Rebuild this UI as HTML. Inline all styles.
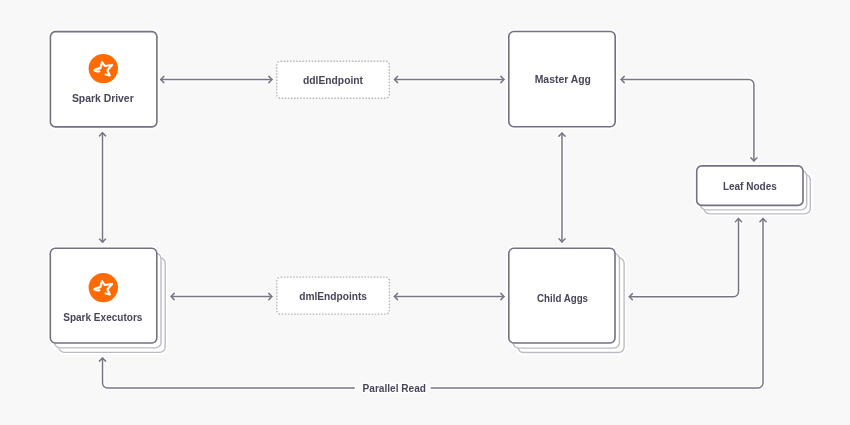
<!DOCTYPE html>
<html><head><meta charset="utf-8">
<style>
html,body{margin:0;padding:0;background:#f8f8f8;width:850px;height:425px;overflow:hidden}
svg{display:block}
text{font-family:"Liberation Sans",sans-serif;font-weight:bold;font-size:10.3px;fill:#474659}
</style></head>
<body>
<svg width="850" height="425" viewBox="0 0 850 425">
<defs>
<path id="star" d="M105.6,74.4L109.8,75.5L107.4,70.3L112.1,65L104.7,66L102,62L100.5,68.1Q95.5,69.2 94.3,70.3Q95.8,71.9 99.4,71.3" fill="none" stroke="#fff" stroke-width="2.1" stroke-linejoin="round" stroke-linecap="round"/>
</defs>
<rect width="850" height="425" fill="#f8f8f8"/>
<g fill="none" stroke="#fff" stroke-width="4" stroke-linecap="round" stroke-linejoin="round">
<path d="M160.7,79.5H272.0M394.5,79.5H504.0M102.5,132.8V242.1M562,133.0V241.9M171.1,296.5H271.9M394.4,296.5H504.0M621.1,79.5H748.9A5,5 0 0 1 753.9,84.5V160.9M629.3,296.7H733.5A5,5 0 0 0 738.5,291.7V218.6M102.5,358.0V383A5,5 0 0 0 107.5,388H354.3M431.2,388H758A5,5 0 0 0 763,383V218.6"/>
<path d="M163.80,76.40L160.70,79.50L163.80,82.60M268.90,76.40L272.00,79.50L268.90,82.60M397.60,76.40L394.50,79.50L397.60,82.60M500.90,76.40L504.00,79.50L500.90,82.60M99.40,135.90L102.50,132.80L105.60,135.90M99.40,239.00L102.50,242.10L105.60,239.00M558.90,136.10L562.00,133.00L565.10,136.10M558.90,238.80L562.00,241.90L565.10,238.80M174.20,293.40L171.10,296.50L174.20,299.60M268.80,293.40L271.90,296.50L268.80,299.60M397.50,293.40L394.40,296.50L397.50,299.60M500.90,293.40L504.00,296.50L500.90,299.60M624.20,76.40L621.10,79.50L624.20,82.60M750.80,157.80L753.90,160.90L757.00,157.80M632.40,293.60L629.30,296.70L632.40,299.80M735.40,221.70L738.50,218.60L741.60,221.70M99.40,361.10L102.50,358.00L105.60,361.10M759.90,221.70L763.00,218.60L766.10,221.70"/>
</g>
<g fill="#fff" stroke="#fff" stroke-width="4.5"><rect x="50.4" y="31.6" width="106.5" height="95.3" rx="5"/><rect x="50.3" y="248.3" width="106.5" height="94.7" rx="5"/><rect x="508.8" y="31.5" width="106.4" height="95.2" rx="5"/><rect x="508.8" y="248.3" width="106.2" height="94.7" rx="5"/><rect x="696.7" y="165.9" width="106.3" height="39.5" rx="5"/><rect x="58.7" y="257.7" width="106.5" height="94.7" rx="5"/><rect x="54.5" y="253.2" width="106.5" height="94.7" rx="5"/><rect x="517.9" y="257.8" width="106.2" height="94.7" rx="5"/><rect x="513.2" y="253.4" width="106.2" height="94.7" rx="5"/><rect x="704" y="174.5" width="106.3" height="39.4" rx="5"/><rect x="700.4" y="170.5" width="106.3" height="39.4" rx="5"/></g>
<g fill="#fff" stroke="#bdbcc5" stroke-width="1.4"><rect x="58.7" y="257.7" width="106.5" height="94.7" rx="5.5"/><rect x="54.5" y="253.2" width="106.5" height="94.7" rx="5.5"/><rect x="517.9" y="257.8" width="106.2" height="94.7" rx="5.5"/><rect x="513.2" y="253.4" width="106.2" height="94.7" rx="5.5"/><rect x="704" y="174.5" width="106.3" height="39.4" rx="5.5"/><rect x="700.4" y="170.5" width="106.3" height="39.4" rx="5.5"/></g>
<g fill="#fff" stroke="#727183" stroke-width="1.6"><rect x="50.4" y="31.6" width="106.5" height="95.3" rx="5"/><rect x="50.3" y="248.3" width="106.5" height="94.7" rx="5"/><rect x="508.8" y="31.5" width="106.4" height="95.2" rx="5"/><rect x="508.8" y="248.3" width="106.2" height="94.7" rx="5"/><rect x="696.7" y="165.9" width="106.3" height="39.5" rx="5"/></g>
<g fill="#fff" stroke="#b5b4be" stroke-width="1.4" stroke-dasharray="1.5 1.6">
<rect x="276.7" y="61.2" width="112.6" height="37" rx="4"/>
<rect x="276.8" y="277.1" width="112.6" height="37" rx="4"/>
</g>
<g fill="none" stroke="#777687" stroke-width="1.5" stroke-linecap="round" stroke-linejoin="round">
<path d="M160.7,79.5H272.0M394.5,79.5H504.0M102.5,132.8V242.1M562,133.0V241.9M171.1,296.5H271.9M394.4,296.5H504.0M621.1,79.5H748.9A5,5 0 0 1 753.9,84.5V160.9M629.3,296.7H733.5A5,5 0 0 0 738.5,291.7V218.6M102.5,358.0V383A5,5 0 0 0 107.5,388H354.3M431.2,388H758A5,5 0 0 0 763,383V218.6"/>
<path d="M163.80,76.40L160.70,79.50L163.80,82.60M268.90,76.40L272.00,79.50L268.90,82.60M397.60,76.40L394.50,79.50L397.60,82.60M500.90,76.40L504.00,79.50L500.90,82.60M99.40,135.90L102.50,132.80L105.60,135.90M99.40,239.00L102.50,242.10L105.60,239.00M558.90,136.10L562.00,133.00L565.10,136.10M558.90,238.80L562.00,241.90L565.10,238.80M174.20,293.40L171.10,296.50L174.20,299.60M268.80,293.40L271.90,296.50L268.80,299.60M397.50,293.40L394.40,296.50L397.50,299.60M500.90,293.40L504.00,296.50L500.90,299.60M624.20,76.40L621.10,79.50L624.20,82.60M750.80,157.80L753.90,160.90L757.00,157.80M632.40,293.60L629.30,296.70L632.40,299.80M735.40,221.70L738.50,218.60L741.60,221.70M99.40,361.10L102.50,358.00L105.60,361.10M759.90,221.70L763.00,218.60L766.10,221.70"/>
</g>
<circle cx="103.3" cy="68.6" r="14.7" fill="#ff6a02"/>
<use href="#star"/>
<circle cx="103.3" cy="287.6" r="14.7" fill="#ff6a02"/>
<use href="#star" transform="translate(0,219)"/>
<g style="will-change:transform">
<text x="71.9" y="102.35" textLength="61.8" lengthAdjust="spacingAndGlyphs">Spark Driver</text>
<text x="63.2" y="321.1" textLength="79.2" lengthAdjust="spacingAndGlyphs">Spark Executors</text>
<text x="303" y="83.5" textLength="60" lengthAdjust="spacingAndGlyphs">ddlEndpoint</text>
<text x="299.2" y="299.5" textLength="67.8" lengthAdjust="spacingAndGlyphs">dmlEndpoints</text>
<text x="534.7" y="83.3" textLength="56.3" lengthAdjust="spacingAndGlyphs">Master Agg</text>
<text x="537" y="302.2" textLength="51" lengthAdjust="spacingAndGlyphs">Child Aggs</text>
<text x="722.9" y="189.5" textLength="53.9" lengthAdjust="spacingAndGlyphs">Leaf Nodes</text>
<text x="362.6" y="391.8" textLength="63.4" lengthAdjust="spacingAndGlyphs" style="stroke:#fff;stroke-width:2.5px;paint-order:stroke;stroke-linejoin:round">Parallel Read</text>
</g>
</svg>
</body></html>
